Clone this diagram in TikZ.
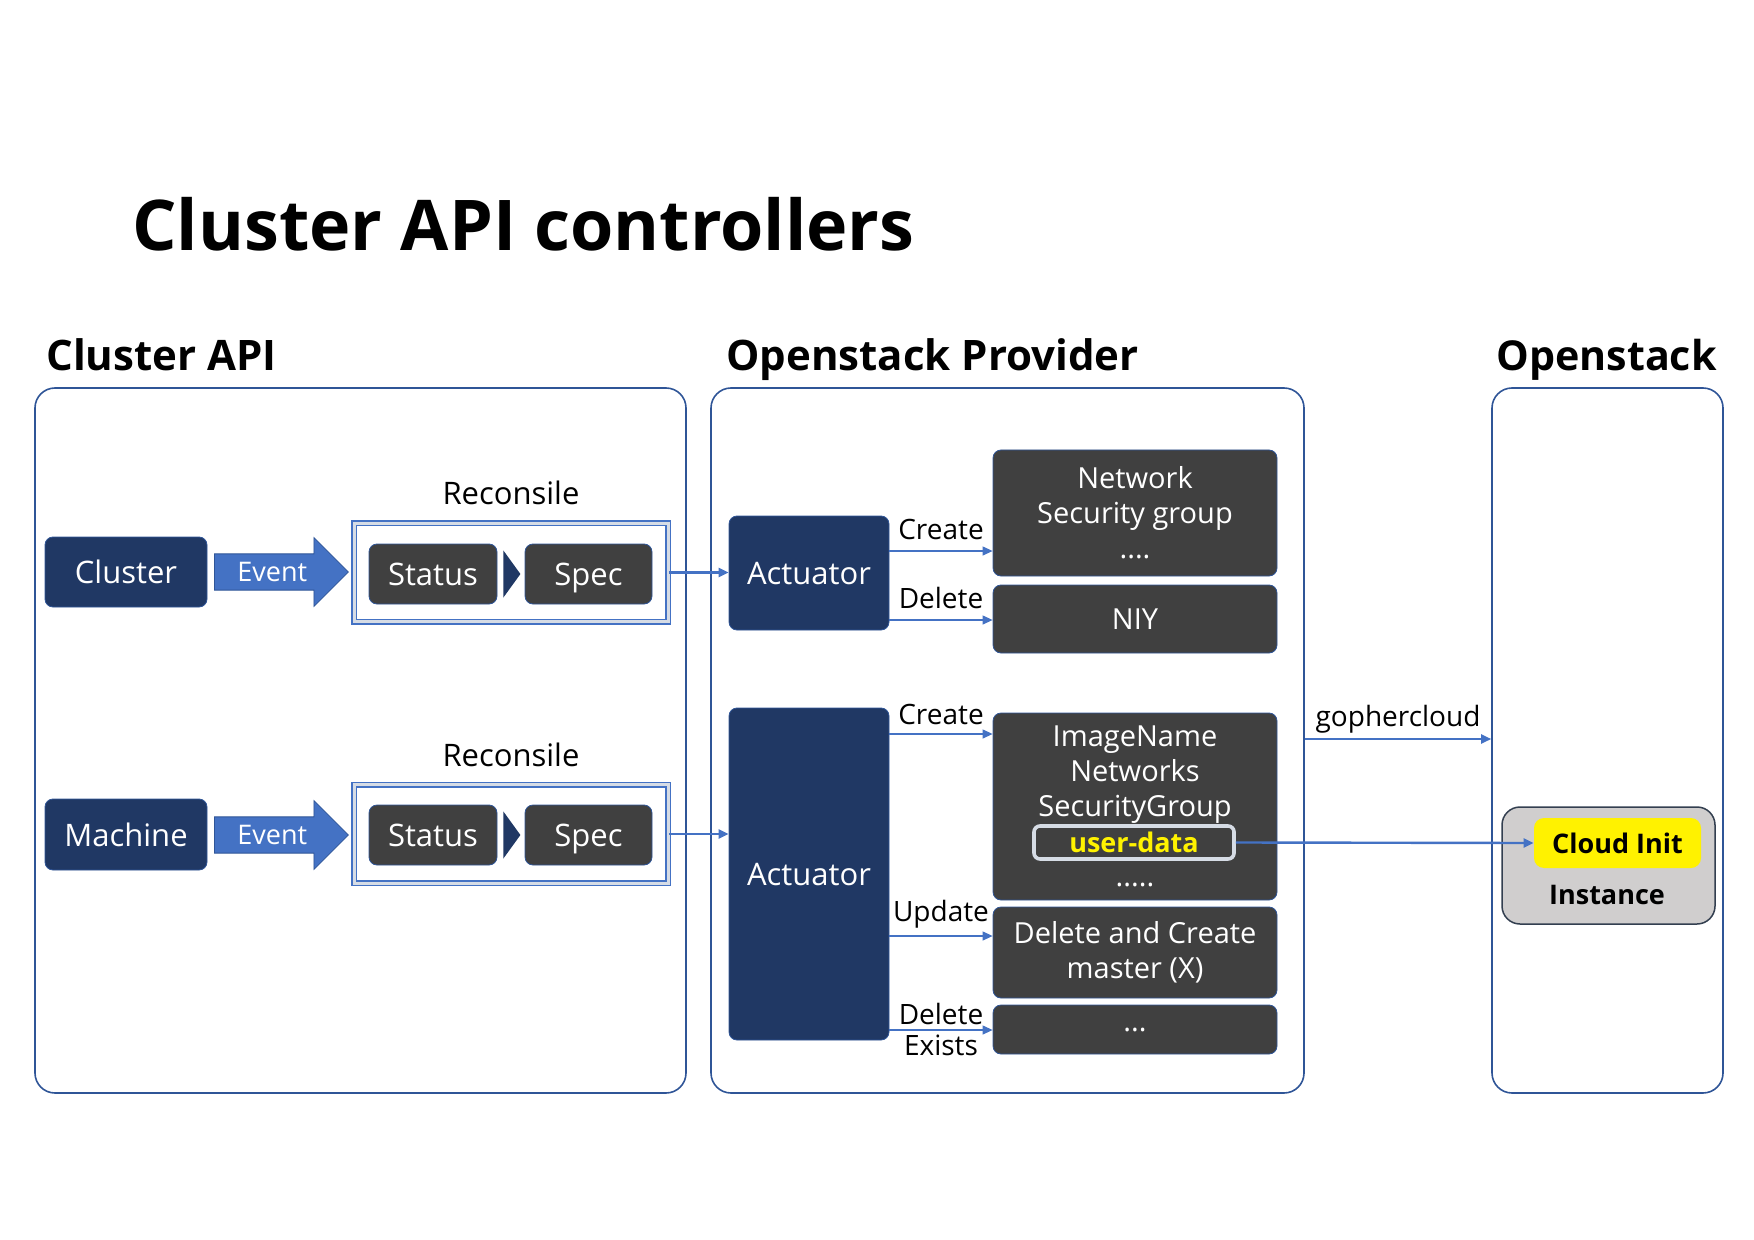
\documentclass[tikz,border=0pt]{standalone}
\usepackage{fontspec}
\setmainfont{Open Sans}
\usetikzlibrary{positioning, arrows.meta, calc, shapes.arrows}
\definecolor{navy}{HTML}{203864}
\definecolor{darkbox}{HTML}{404040}
\definecolor{midblue}{HTML}{4472C4}
\definecolor{lineblue}{HTML}{2F5597}
\definecolor{paleblue}{HTML}{D6DCE5}
\definecolor{instgrey}{HTML}{D0CECE}
\definecolor{slate}{HTML}{333F50}
\tikzset{group box/.style={draw=lineblue, line width=0.8pt, rounded corners=10pt, minimum height=352.5pt},
heading/.style={anchor=base west, inner sep=0pt, font=\fontsize{21}{24}\selectfont\bfseries},
kind node/.style={draw=lineblue, fill=navy, rounded corners=4pt, text=white, minimum width=81pt, text depth=0pt, font=\fontsize{15.5}{18}\selectfont},
event arrow/.style={single arrow, draw=lineblue, fill=midblue, text=white, single arrow head extend=5.5pt, minimum width=34.5pt, minimum height=67pt, anchor=tail, inner sep=1pt, font=\fontsize{13.5}{16}\selectfont},
rec box/.style={draw=midblue, double=paleblue, double distance=1.5pt, line width=0.75pt, minimum width=157pt, minimum height=49.4pt},
dark box/.style={draw=lineblue, fill=darkbox, rounded corners=4pt, text=white, align=center, minimum width=142pt, font=\fontsize{14.5}{17.5}\selectfont},
state node/.style={dark box, minimum width=64pt, minimum height=30pt, text depth=0pt, font=\fontsize{15.5}{18}\selectfont},
conn label/.style={font=\fontsize{14}{16}\selectfont},
conn/.style={draw=midblue, line width=0.6pt, ->},
thick conn/.style={conn, line width=1.2pt},}

\begin{document}
\begin{tikzpicture}[x=0.5pt, y=-0.5pt, >={Triangle[length=5pt, width=4.5pt]}]
\useasboundingbox (0,0) rectangle (1754,1240);
% Titles
\node[heading, font=\fontsize{35}{40}\selectfont\bfseries] (title) at (132,251) {Cluster API controllers};
\node[heading] (capihd) at (46,371) {Cluster API};
\node[heading] (provhd) at (726,371) {Openstack Provider};
\node[heading, font=\fontsize{20.6}{24}\selectfont\bfseries] (oshd) at (1496,371) {Openstack};
% Groups
\node[group box, minimum width=325.5pt] (capi) at (360.5,740.5) {};
\node[group box, minimum width=296.5pt] (prov) at (1007.5,740.5) {};
\node[group box, minimum width=115.5pt] (os) at (1607.5,740.5) {};
% Cluster API
\node[kind node, minimum height=35pt] (cl1) at (126,572) {Cluster};
\node[event arrow] (ev1) at (214,572) {Event};
\node[rec box] (rec1) at (511,572.5) {};
\node[above=5pt of rec1, font=\fontsize{15.5}{18}\selectfont] (rl1) {Reconsile};
\node[state node] (st1) at (433,574) {Status};
\node[state node, minimum width=63.5pt] (sp1) at (588.5,574) {Spec};
\fill[navy] ($(st1.east)+(6,-23.5)$) -- ++(17,23.5) -- ++(-17,23.5) -- cycle;
\node[kind node, minimum height=35.5pt] (cl2) at (126,834.5) {Machine};
\node[event arrow] (ev2) at (214,835) {Event};
\node[rec box] (rec2) at (511,834) {};
\node[above=5pt of rec2, font=\fontsize{15.5}{18}\selectfont] (rl2) {Reconsile};
\node[state node] (st2) at (433,835) {Status};
\node[state node, minimum width=63.5pt] (sp2) at (588.5,835) {Spec};
\fill[navy] ($(st2.east)+(6,-23.5)$) -- ++(17,23.5) -- ++(-17,23.5) -- cycle;
% Openstack Provider
\node[kind node, minimum width=80pt, minimum height=57pt] (act1) at (809,573) {Actuator};
\node[kind node, minimum width=80pt, minimum height=166pt] (act2) at (809,874) {Actuator};
\node[dark box, minimum height=63pt] (net) at (1135,513) {Network\\Security group\\....};
\node[dark box, minimum height=34pt] (niy) at (1135,619) {NIY};
\node[dark box, minimum height=93.5pt] (ims) at (1135,806.5) {ImageName\\Networks\\SecurityGroup\\\mbox{}\\.....};
\node[draw=paleblue, line width=1.8pt, fill=darkbox, rounded corners=3pt, text=yellow, minimum width=100pt, minimum height=16.5pt, inner sep=0pt, font=\fontsize{13.5}{16}\selectfont\bfseries] (ud) at (1134,842.5) {user-data};
\node[dark box, minimum height=45.5pt] (dac) at (1135,952.5) {Delete and Create\\master (X)};
\node[dark box, minimum height=24.5pt] (etc) at (1135,1029.5) {...};
% Openstack
\node[fill=instgrey, draw=slate, line width=0.75pt, rounded corners=9pt, minimum width=106.5pt, minimum height=58.5pt] (inst) at (1608.5,865.5) {};
\node[fill=yellow, rounded corners=5pt, minimum width=83.5pt, minimum height=25pt, font=\fontsize{13.5}{16}\selectfont\bfseries] (ci) at (1617.5,843) {Cloud Init};
\node[font=\fontsize{13.5}{16}\selectfont\bfseries] (instl) at (1607,895) {Instance};
% Paths
\draw[thick conn] (rec1.east) -- (rec1.east -| act1.west);
\draw[thick conn] (rec2.east) -- (rec2.east -| act2.west);
\draw[conn] ($(act1.east)+(0,-22)$) coordinate (a1) -- (a1 -| net.west) node[midway, above=2pt, conn label] {Create};
\draw[conn] ($(act1.east)+(0,47)$) coordinate (a2) -- (a2 -| niy.west) node[midway, above=2pt, conn label] {Delete};
\draw[conn] ($(act2.east)+(0,-140)$) coordinate (a3) -- (a3 -| ims.west) node[midway, above=1pt, conn label] {Create};
\draw[conn] ($(act2.east)+(0,62)$) coordinate (a4) -- (a4 -| dac.west) node[midway, above=0.5pt, conn label] {Update};
\draw[conn] ($(act2.east)+(0,156)$) coordinate (a5) -- (a5 -| etc.west)
  node[midway, above=-1pt, conn label] {Delete} node[midway, below=-1pt, conn label] {Exists};
\draw[conn, line width=1pt] ($(prov.east)+(0,-1.5)$) coordinate (g1) -- (g1 -| os.west) node[midway, above=-1pt, conn label] {gophercloud};
\draw[thick conn] (ud.east) -- (ci.west);
\end{tikzpicture}
\end{document}
